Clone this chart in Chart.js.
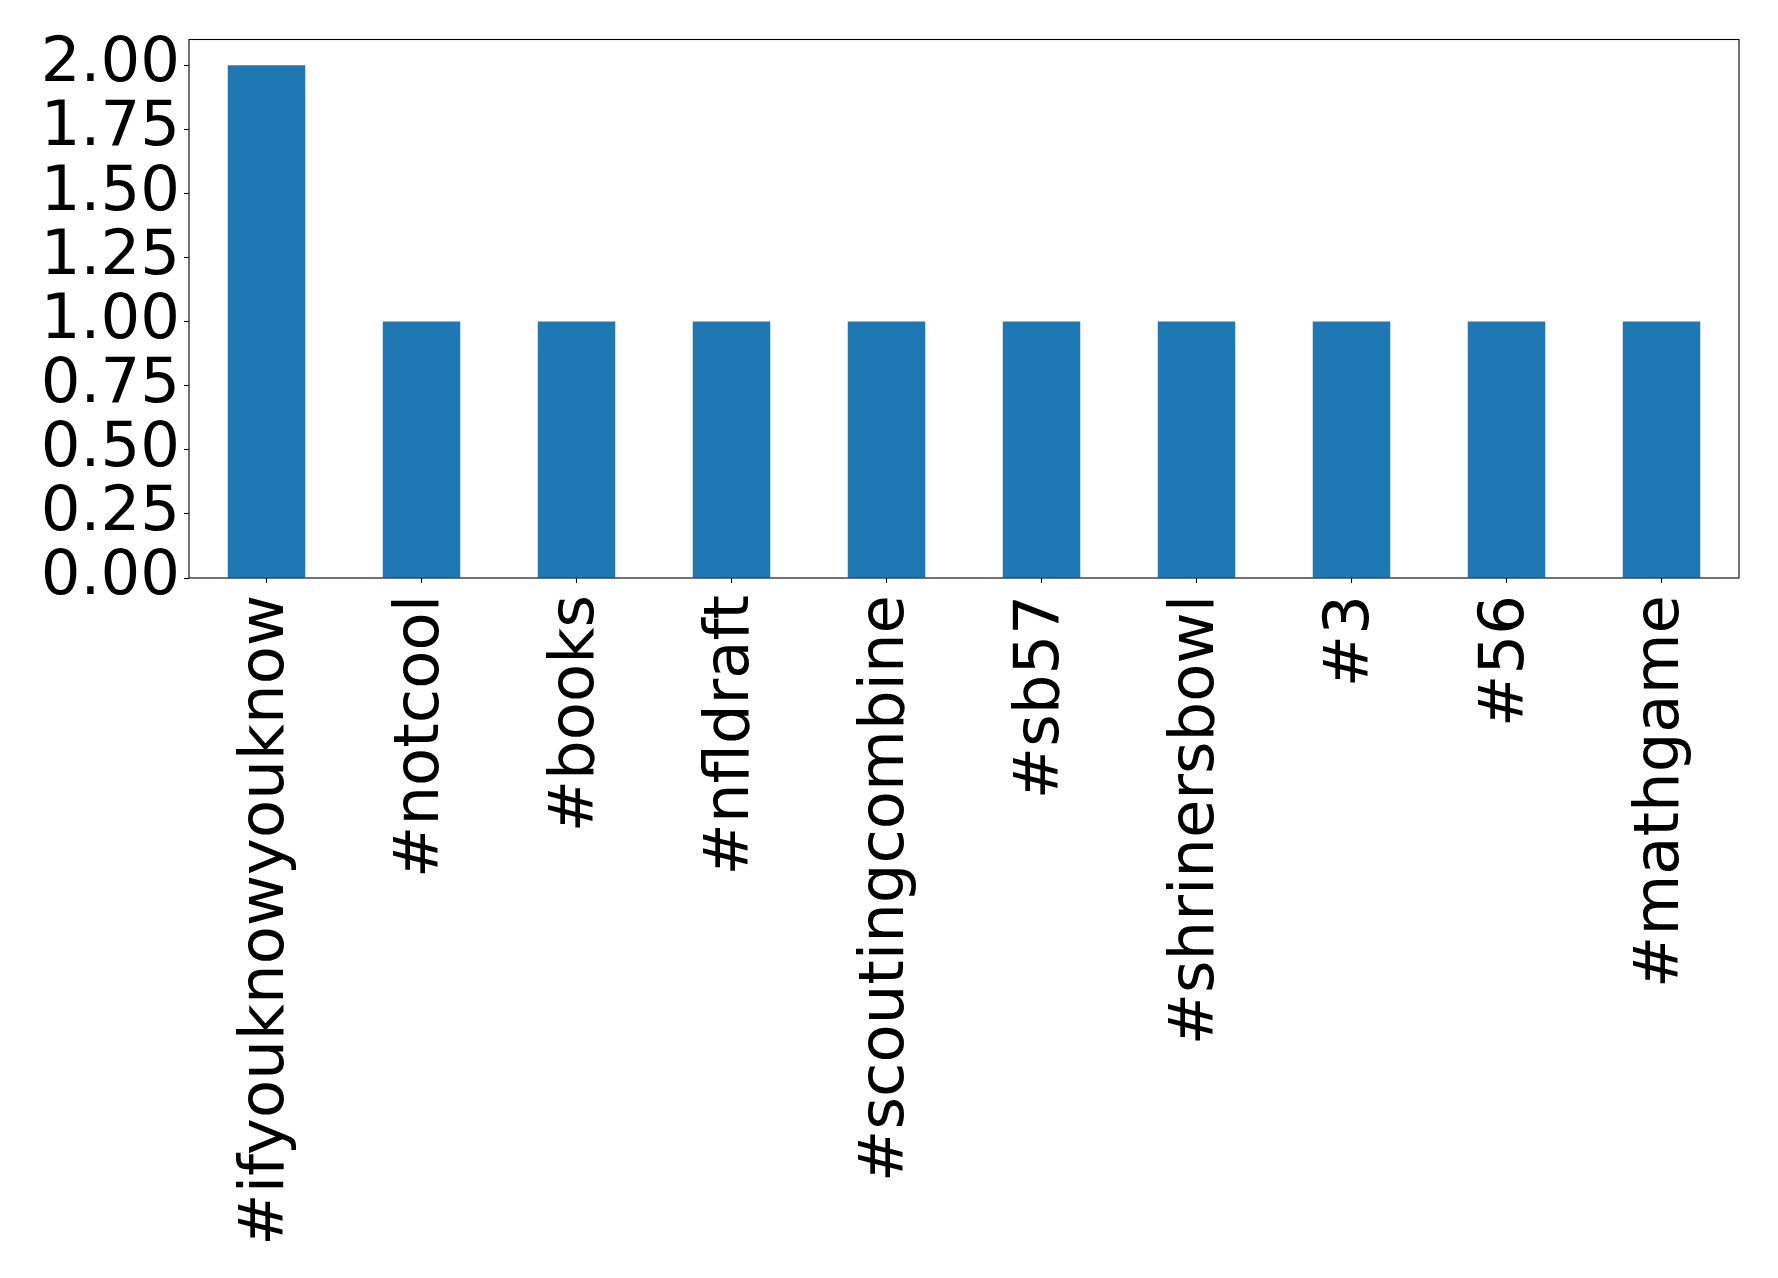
<!DOCTYPE html>
<html>
<head>
<meta charset="utf-8">
<script src="https://cdn.jsdelivr.net/npm/chart.js@4/dist/chart.umd.min.js"></script>
<style>
  html, body { margin: 0; padding: 0; background: #ffffff; }
  canvas { display: block; }
</style>
</head>
<body>
<canvas id="c" width="1778" height="1278"></canvas>
<script>
const categories = ['#ifyouknowyouknow', '#notcool', '#books', '#nfldraft', '#scoutingcombine', '#sb57', '#shrinersbowl', '#3', '#56', '#mathgame'];
const counts = [2, 1, 1, 1, 1, 1, 1, 1, 1, 1];
const yTicks = [0, 0.25, 0.5, 0.75, 1.0, 1.25, 1.5, 1.75, 2.0];
const yMax = 2.1;

const FONT = { family: 'DejaVu Sans', size: 62.5 };

const boxPlugin = {
  id: 'box',
  afterDatasetsDraw(chart) {
    const a = chart.chartArea;
    const ctx = chart.ctx;
    ctx.save();
    ctx.strokeStyle = '#000';
    ctx.lineWidth = 1.1;
    ctx.strokeRect(a.left, a.top, a.right - a.left, a.bottom - a.top);
    ctx.restore();
  }
};

new Chart(document.getElementById('c'), {
  type: 'bar',
  data: {
    labels: categories,
    datasets: [{
      data: counts,
      backgroundColor: '#1f77b4',
      borderWidth: 0,
      barPercentage: 0.5,
      categoryPercentage: 1.0
    }]
  },
  options: {
    responsive: false,
    animation: false,
    devicePixelRatio: 1,
    layout: { padding: { top: 39.5, right: 39, left: 0, bottom: 0 } },
    plugins: { legend: { display: false }, tooltip: { enabled: false } },
    scales: {
      x: {
        offset: true,
        grid: { display: true, drawOnChartArea: false, drawTicks: true, tickLength: 5, tickColor: '#000', tickWidth: 1.1, offset: false },
        border: { display: false },
        ticks: { color: '#000', font: FONT, minRotation: 90, maxRotation: 90, autoSkip: false, padding: 12 },
        afterFit(scale) {
          scale.height = 700;
          scale.paddingLeft = 0; scale.paddingRight = 0;
        }
      },
      y: {
        min: 0,
        max: yMax,
        grid: { display: true, drawOnChartArea: false, drawTicks: true, tickLength: 5, tickColor: '#000', tickWidth: 1.1 },
        border: { display: false },
        ticks: { color: '#000', font: FONT, padding: 4, autoSkip: false, callback: (v) => Number(v).toFixed(2) },
        afterBuildTicks(scale) { scale.ticks = yTicks.map(v => ({ value: v })); },
        afterFit(scale) {
          scale.width = 189;
          scale.paddingTop = 0; scale.paddingBottom = 0;
        }
      }
    }
  },
  plugins: [boxPlugin]
});
</script>
</body>
</html>
